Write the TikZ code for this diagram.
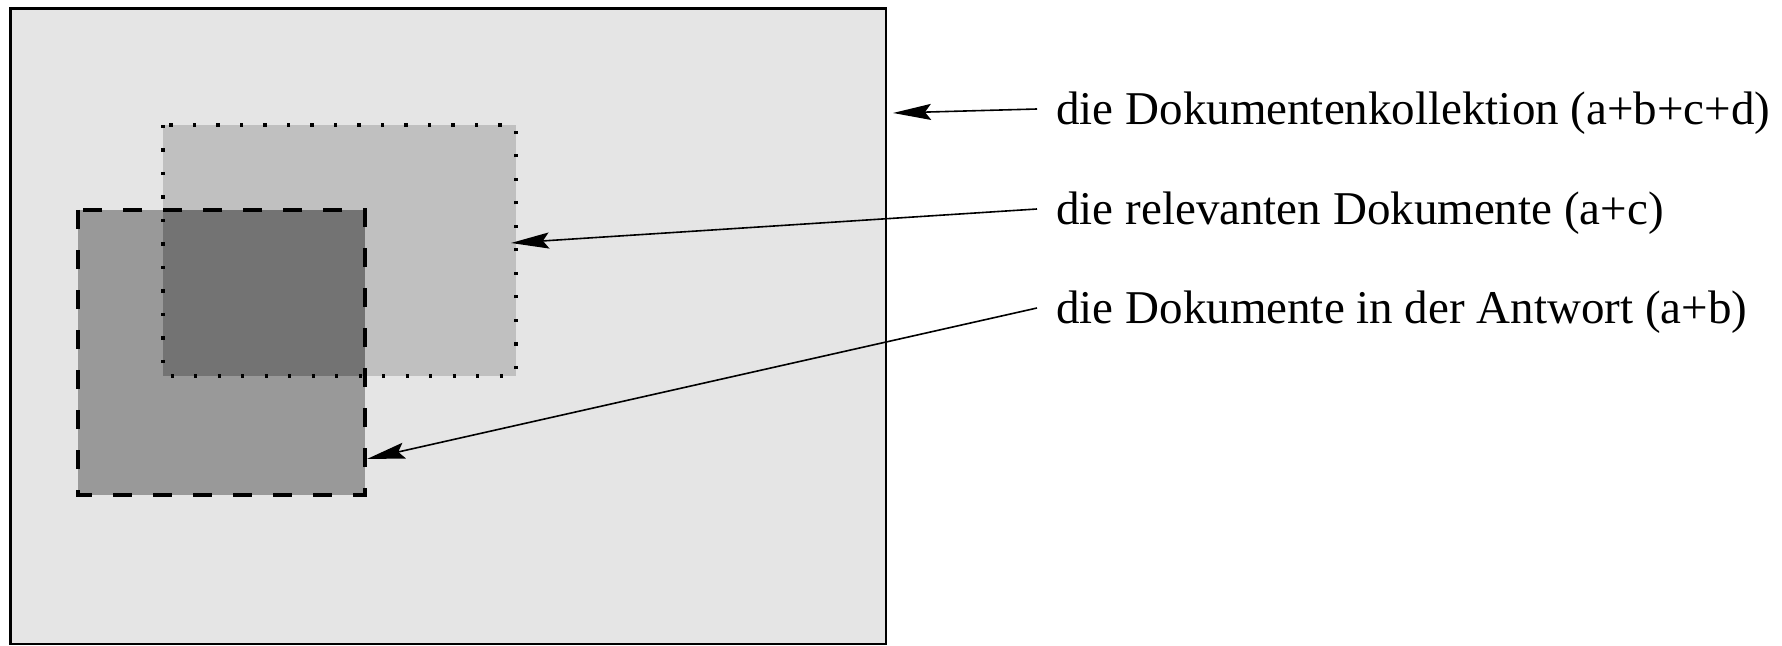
\documentclass[tikz,border=0pt]{standalone}
\usepackage{fontspec}
\setmainfont{Liberation Serif}
\usetikzlibrary{arrows.meta}
\definecolor{collfill}{HTML}{E5E5E5}
\definecolor{relfill}{HTML}{C0C0C0}
\definecolor{ansfill}{HTML}{999999}
\definecolor{bothfill}{HTML}{737373}
\tikzset{
  box/.style={line width=1.35pt},
  dotbox/.style={line width=1.7pt, dash pattern=on 1.7pt off 10.05pt},
  dashbox/.style={line width=1.8pt, dash pattern=on 9.5pt off 10.5pt},
  lbl/.style={anchor=base west, inner xsep=9.5pt, inner ysep=0pt, text height=17pt, text depth=1pt,
              font=\fontsize{23.5}{28}\selectfont},
  arr/.style={line width=0.8pt, -{Stealth[length=19pt, width=8pt, inset=3pt]}}
}
\begin{document}
\begin{tikzpicture}[x=0.5pt, y=-0.5pt]
\useasboundingbox (0,0) rectangle (1782,646);
% collection
\filldraw[box, fill=collfill] (10.5,8.5) rectangle (886,644);
\coordinate (collarr) at (893,113);
% fills
\fill[relfill] (163,125) rectangle (516,376);
\fill[ansfill] (78,210) rectangle (365,495);
\fill[bothfill] (163,210) rectangle (365,376);
% borders
\draw[dotbox] (163,125) rectangle (516,376);
\draw[dashbox] (78,210) rectangle (365,495);
\coordinate (relarr) at (511,243);
\coordinate (ansarr) at (367,459);
% labels
\node[lbl] (t1) at (1037,125) {die Dokumentenkollektion (a+b+c+d)};
\node[lbl] (t2) at (1037,225) {die relevanten Dokumente (a+c)};
\node[lbl] (t3) at (1037,324) {die Dokumente in der Antwort (a+b)};
\draw[arr] (t1.west) -- (collarr);
\draw[arr] (t2.west) -- (relarr);
\draw[arr] (t3.west) -- (ansarr);
\end{tikzpicture}
\end{document}
